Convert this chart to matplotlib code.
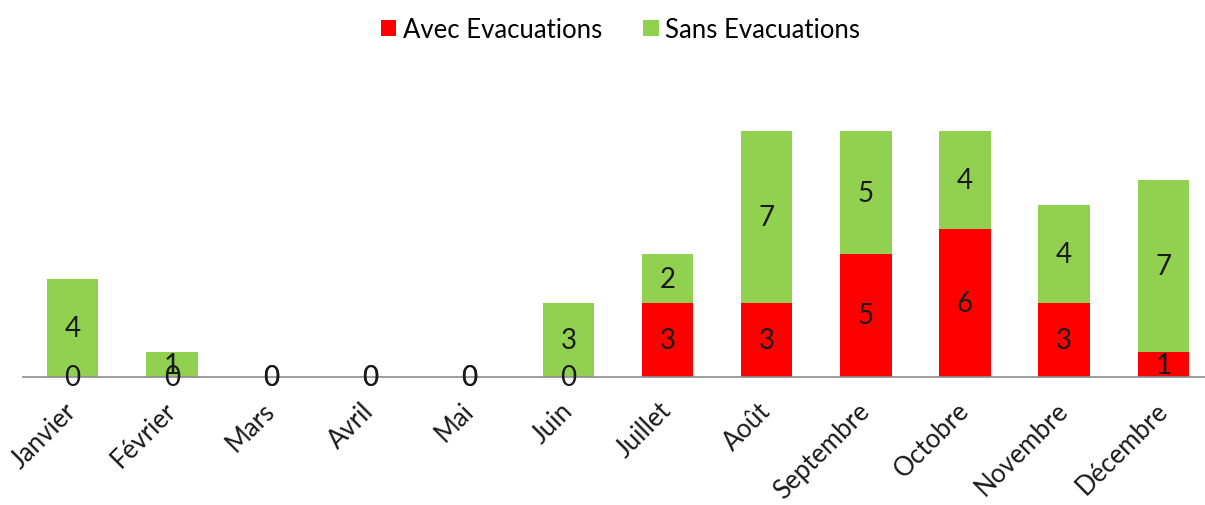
import numpy as np
import matplotlib.pyplot as plt

# ── données ─────────────────────────────────────────────
mois = ["Janvier", "Février", "Mars", "Avril", "Mai", "Juin",
        "Juillet", "Août", "Septembre", "Octobre", "Novembre", "Décembre"]
avec_evac = [0, 0, 0, 0, 0, 0, 3, 3, 5, 6, 3, 1]
sans_evac = [4, 1, 0, 0, 0, 3, 2, 7, 5, 4, 4, 7]

ROUGE = "#FF0000"
VERT = "#92D050"

plt.rcParams["font.family"] = ["Lato", "DejaVu Sans"]

fig = plt.figure(figsize=(12.05, 5.06), dpi=100)
ax = fig.add_axes([23 / 1205, 128 / 506, 1182 / 1205, 246 / 506])

x = np.arange(len(mois))
b1 = ax.bar(x, avec_evac, width=0.52, color=ROUGE, label="Avec Evacuations")
b2 = ax.bar(x, sans_evac, width=0.52, bottom=avec_evac, color=VERT,
            label="Sans Evacuations")

ax.bar_label(b1, labels=[str(v) for v in avec_evac], label_type="center",
             fontsize=20, color="#1a1a1a")
ax.bar_label(b2, labels=[str(v) for v in sans_evac], label_type="center",
             fontsize=20, color="#1a1a1a")

ax.set_xlim(-0.5, 11.42)
ax.set_ylim(0, 10)
ax.set_yticks([])
for s in ["top", "right", "left"]:
    ax.spines[s].set_visible(False)
ax.spines["bottom"].set_color("#8c8c8c")
ax.spines["bottom"].set_linewidth(1.2)
ax.set_xticks(x)
ax.set_xticklabels(mois, rotation=45, ha="right", va="center",
                   rotation_mode="anchor", fontsize=18.5, color="#1a1a1a")
ax.tick_params(axis="x", length=0, pad=21)

fig.legend(loc="upper center", bbox_to_anchor=(0.515, 1.01), ncol=2,
           frameon=False, fontsize=18.5, handlelength=0.6, handleheight=0.6,
           handletextpad=0.25, columnspacing=1.6)

plt.savefig("out.png", dpi=100)
